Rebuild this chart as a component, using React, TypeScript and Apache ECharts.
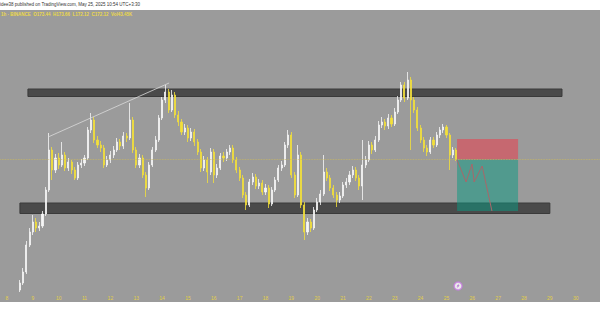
import React, { useEffect, useRef } from 'react';
import * as echarts from 'echarts';

// 3-hour candles, from May 8 12:00 onwards (x in day-of-month units)
const startDay = 8.5;
const stepDay = 0.125;
const firstOpen = 146.0;

const closes = [
  147.4, 149.6, 155.0, 157.6, 159.6, 158.4, 158.8, 161.2, 166.0, 174.0,
  170.0, 172.4, 171.0, 173.0, 170.4, 171.6, 170.0, 168.4, 171.0, 171.4,
  172.4, 178.0, 180.0, 176.0, 175.0, 174.4, 171.0, 172.0, 173.0, 174.0,
  175.6, 174.8, 176.8, 176.4, 180.0, 174.0, 171.0, 172.4, 169.0, 166.4,
  171.0, 174.0, 176.0, 180.4, 184.0, 185.6, 182.0, 185.0, 181.0, 179.6,
  177.6, 178.4, 176.4, 177.6, 175.6, 173.6, 170.4, 172.0, 169.6, 173.6,
  169.0, 170.4, 172.8, 172.4, 173.6, 174.4, 172.0, 170.0, 168.4, 165.0,
  163.0, 167.6, 168.6, 166.8, 167.4, 165.6, 166.4, 163.2, 166.0, 168.0,
  170.4, 171.0, 175.0, 177.0, 169.0, 165.0, 173.0, 163.0, 157.6, 159.6,
  158.4, 162.0, 163.6, 165.2, 169.6, 168.4, 166.4, 165.0, 164.0, 164.8,
  167.0, 167.6, 169.0, 170.0, 168.4, 166.8, 171.0, 172.0, 175.0, 174.0,
  176.0, 179.0, 179.6, 178.8, 180.4, 179.2, 181.6, 184.0, 187.0, 184.4,
  188.0, 184.0, 182.0, 178.4, 176.0, 174.4, 173.6, 176.0, 175.0, 177.0,
  178.0, 178.6, 177.0, 173.0, 174.0, 172.12,
];

const highs = [
  148.0, 150.4, 155.8, 158.4, 161.0, 160.4, 159.6, 161.8, 166.6, 177.4,
  174.6, 173.2, 173.4, 175.6, 173.6, 172.4, 172.0, 170.6, 171.6, 172.2,
  173.0, 178.6, 181.4, 180.6, 176.8, 175.8, 175.0, 172.8, 173.8, 174.8,
  176.4, 176.2, 177.6, 177.4, 183.4, 180.6, 174.6, 173.2, 173.0, 169.6,
  171.6, 174.6, 176.8, 181.0, 184.6, 187.0, 186.2, 186.0, 185.6, 181.8,
  180.2, 179.2, 179.0, 178.4, 178.2, 176.2, 174.2, 172.8, 172.6, 174.4,
  174.2, 171.2, 173.4, 173.6, 174.2, 175.0, 175.0, 172.6, 170.6, 169.0,
  165.6, 168.2, 169.4, 169.2, 168.2, 168.0, 167.2, 167.0, 166.6, 168.6,
  171.0, 171.8, 175.6, 178.0, 177.6, 169.6, 175.0, 173.6, 163.6, 160.4,
  160.2, 162.6, 164.4, 166.0, 173.0, 170.4, 169.0, 167.0, 165.6, 165.6,
  167.6, 168.4, 169.8, 170.8, 170.6, 169.0, 176.0, 172.8, 175.8, 175.6,
  176.8, 179.8, 180.6, 180.2, 181.2, 181.0, 182.4, 184.8, 187.6, 187.6,
  189.6, 188.6, 184.6, 182.6, 179.0, 176.6, 175.0, 176.6, 176.6, 177.6,
  178.6, 179.2, 179.0, 177.4, 174.6, 174.4,
];

const lows = [
  145.6, 147.0, 149.2, 154.6, 157.0, 157.6, 157.8, 158.4, 160.8, 165.6,
  168.0, 169.4, 170.2, 170.6, 169.8, 169.8, 169.2, 168.0, 168.0, 170.4,
  170.8, 172.0, 177.4, 175.4, 174.4, 173.6, 170.4, 170.6, 171.4, 172.4,
  173.6, 174.0, 174.2, 175.6, 176.0, 173.4, 170.4, 170.4, 168.4, 164.6,
  166.0, 170.6, 173.6, 175.6, 180.0, 183.4, 181.4, 181.6, 180.4, 178.8,
  177.0, 177.0, 175.6, 175.8, 174.8, 173.0, 169.6, 169.8, 167.4, 169.0,
  167.4, 168.4, 170.0, 171.6, 171.8, 173.0, 171.4, 169.4, 167.8, 164.4,
  162.0, 162.6, 167.0, 166.2, 166.2, 165.0, 165.0, 162.4, 162.8, 165.6,
  167.6, 169.8, 170.6, 174.4, 168.4, 164.4, 164.6, 162.4, 156.0, 157.0,
  157.6, 158.0, 161.6, 163.0, 164.8, 167.8, 165.8, 164.4, 162.6, 163.4,
  164.4, 166.4, 167.0, 168.4, 167.8, 166.0, 164.0, 170.4, 171.6, 173.2,
  173.6, 175.6, 178.4, 178.0, 178.2, 178.6, 178.8, 181.2, 183.6, 183.6,
  184.0, 174.0, 181.4, 177.8, 175.4, 173.6, 172.8, 173.2, 174.4, 174.6,
  176.4, 177.4, 176.4, 170.0, 172.4, 171.8,
];

const lastPrice = 172.12;
// resistance / support zones: [dayStart, priceTop], [dayEnd, priceBottom]
const upperZone = [[8.81, 186.2], [29.47, 184.7]];
const lowerZone = [[8.5, 163.4], [29.0, 161.3]];
// short position tool
const stopZone = [[25.41, 176.2], [27.77, 172.12]];
const targetZone = [[25.41, 172.12], [27.77, 161.8]];
// projected path
const pathDays = [25.41, 25.76, 25.99, 26.07, 26.38, 26.76];
const pathPrices = [172.0, 167.6, 171.2, 167.6, 170.8, 161.8];
// rising trendline
const trendDays = [9.59, 14.27];
const trendPrices = [176.6, 187.4];
// event marker
const eventPoint = [25.45, 146.8];

const headerText = 'idee38 published on TradingView.com, May 25, 2025 10:54 UTC+3:30';
const legendText = '1h · BINANCE  O173.44  H173.66  L172.12  C172.12  Vol43.45K';

export default function App() {
  const ref = useRef<HTMLDivElement>(null);

  useEffect(() => {
    if (!ref.current) return;
    const chart = echarts.init(ref.current, undefined, { renderer: 'svg' });

    const candles = closes.map((c, i) => [
      startDay + i * stepDay,
      i === 0 ? firstOpen : closes[i - 1],
      c,
      lows[i],
      highs[i],
    ]);

    const zoneStyle = { color: '#4a4a4a', borderColor: '#3a3a3a', borderWidth: 1 };

    chart.setOption({
      animation: false,
      backgroundColor: 'transparent',
      textStyle: { fontFamily: 'Liberation Sans' },
      grid: {
        left: -18.85,
        width: 620.4,
        top: 10,
        height: 284,
        containLabel: false,
        outerBoundsMode: 'none',
      },
      xAxis: {
        type: 'value',
        min: 7,
        max: 31,
        interval: 1,
        axisLine: { show: false },
        axisTick: { show: false },
        splitLine: { show: false },
        axisLabel: {
          margin: 1,
          fontSize: 5,
          color: '#e2cf48',
          fontFamily: 'Liberation Sans',
          formatter: (v: number) => (v < 8 || v > 30 ? '' : String(v)),
        },
      },
      yAxis: { type: 'value', min: 145.2, max: 202, show: false },
      graphic: [
        {
          type: 'text',
          left: 0,
          top: 2,
          style: { text: headerText, fontSize: 4.5, fill: '#333', fontFamily: 'Liberation Sans' },
        },
        {
          type: 'text',
          left: 1,
          top: 12,
          style: { text: legendText, fontSize: 4.5, fontWeight: 'bold', fill: '#ecd94a', fontFamily: 'Liberation Sans' },
        },
      ],
      series: [
        {
          type: 'line',
          data: [],
          z: 1,
          silent: true,
          markArea: {
            silent: true,
            data: [
              [{ coord: upperZone[0], itemStyle: zoneStyle }, { coord: upperZone[1] }],
              [{ coord: lowerZone[0], itemStyle: zoneStyle }, { coord: lowerZone[1] }],
              [{ coord: stopZone[0], itemStyle: { color: 'rgba(242,54,69,0.5)' } }, { coord: stopZone[1] }],
              [{ coord: targetZone[0], itemStyle: { color: 'rgba(8,153,129,0.5)' } }, { coord: targetZone[1] }],
            ],
          },
          markLine: {
            silent: true,
            symbol: 'none',
            label: { show: false },
            lineStyle: { color: '#cbb95c', type: 'dotted', width: 0.8, opacity: 0.9 },
            data: [{ yAxis: lastPrice }],
          },
        },
        {
          type: 'candlestick',
          z: 3,
          barWidth: 1.6,
          encode: { x: 0, y: [1, 2, 3, 4] },
          itemStyle: {
            color: '#f6f6f6',
            color0: '#f3df3a',
            borderColor: '#f6f6f6',
            borderColor0: '#f3df3a',
            borderWidth: 0.8,
          },
          data: candles,
        },
        {
          type: 'line',
          z: 4,
          symbol: 'none',
          silent: true,
          lineStyle: { color: '#dadada', width: 0.8 },
          data: trendDays.map((d, i) => [d, trendPrices[i]]),
        },
        {
          type: 'line',
          z: 4,
          symbol: 'none',
          silent: true,
          lineStyle: { color: '#a8676a', width: 1 },
          data: pathDays.map((d, i) => [d, pathPrices[i]]),
        },
        {
          type: 'scatter',
          z: 5,
          silent: true,
          symbol: 'circle',
          symbolSize: 8,
          itemStyle: { color: '#ffffff', borderColor: '#c57be0', borderWidth: 1.5 },
          data: [eventPoint],
        },
        {
          type: 'scatter',
          z: 6,
          silent: true,
          symbol: 'path://M6,0 L1,7 L4,7 L2,12 L8,4 L5,4 Z',
          symbolSize: [3, 5],
          itemStyle: { color: '#a650cc' },
          data: [eventPoint],
        },
      ],
    });

    return () => chart.dispose();
  }, []);

  return (
    <div
      style={{
        position: 'fixed',
        left: 0,
        top: 0,
        width: 600,
        height: 315,
        background:
          'linear-gradient(to bottom, #ffffff 0px, #ffffff 10px, #9b9b9b 10px, #9b9b9b 302px, #ffffff 302px)',
      }}
    >
      <div ref={ref} style={{ width: 600, height: 315 }} />
    </div>
  );
}
